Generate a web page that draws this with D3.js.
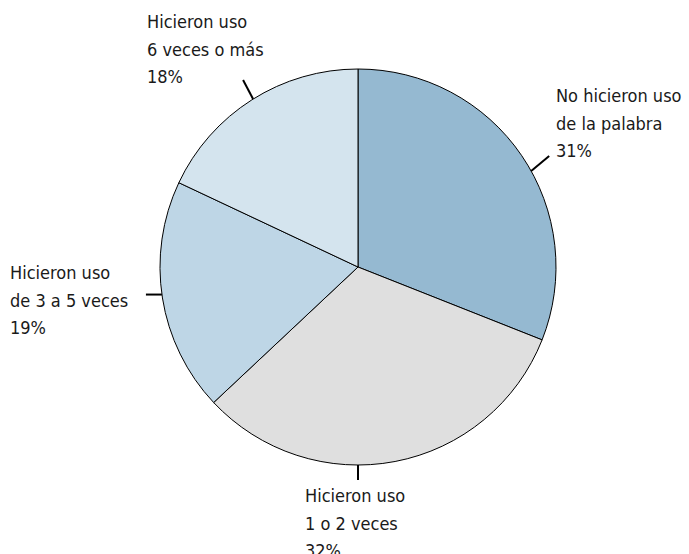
<!DOCTYPE html>
<html>
<head>
<meta charset="utf-8">
<script src="https://cdn.jsdelivr.net/npm/d3@7"></script>
<style>
  html, body { margin: 0; padding: 0; background: #fff; }
  text { font-family: "Liberation Sans Narrow", "DejaVu Sans Condensed", sans-serif; font-size: 18px; fill: #1a1a1a; }
</style>
</head>
<body>
<div class="myChart"></div>
<script>
// data
const categories = [
    ["No hicieron uso", "de la palabra"],
    ["Hicieron uso", "1 o 2 veces"],
    ["Hicieron uso", "de 3 a 5 veces"],
    ["Hicieron uso", "6 veces o más"]
];
const values = [31, 32, 19, 18];
const colors = ["#95b9d1", "#dfdfdf", "#bed6e6", "#d4e4ee"];

const width = 689, height = 554;
const cx = 358, cy = 267, radius = 198;

// where each callout sits: angle on the rim (deg, clockwise from top), tick end offset, text anchor
const callouts = [
    {angle: 61, tick: [18, -15], tx: 556, ty: 102},
    {angle: 180, tick: [0, 15], tx: 305, ty: 502},
    {angle: 262, tick: [-16, 0], tx: 10, ty: 279},
    {angle: 328, tick: [-10, -19], tx: 147, ty: 28}
];

var svg = d3.select('.myChart').append('svg').attr('width', width).attr('height', height);
var g = svg.append('g').attr('transform', 'translate(' + cx + ',' + cy + ')');

const pie = d3.pie().sort(null).value((d) => d);
const arc = d3.arc().innerRadius(0).outerRadius(radius);

g.selectAll('.slice')
    .data(pie(values))
    .enter().append('path')
    .attr('class', 'slice')
    .attr('d', arc)
    .attr('fill', (d, i) => colors[i])
    .attr('stroke', '#000')
    .attr('stroke-width', 1);

// ticks
svg.selectAll('.tick')
    .data(callouts)
    .enter().append('line')
    .attr('x1', (d) => cx + radius * Math.sin(d.angle * Math.PI / 180))
    .attr('y1', (d) => cy - radius * Math.cos(d.angle * Math.PI / 180))
    .attr('x2', (d) => cx + radius * Math.sin(d.angle * Math.PI / 180) + d.tick[0])
    .attr('y2', (d) => cy - radius * Math.cos(d.angle * Math.PI / 180) + d.tick[1])
    .attr('stroke', '#000')
    .attr('stroke-width', 2);

// labels
callouts.forEach((c, i) => {
    const lines = categories[i].concat([values[i] + '%']);
    const t = svg.append('text').attr('x', c.tx).attr('y', c.ty);
    lines.forEach((l, j) => {
        t.append('tspan').attr('x', c.tx).attr('dy', j === 0 ? 0 : 27.5).text(l);
    });
});
</script>
</body>
</html>
